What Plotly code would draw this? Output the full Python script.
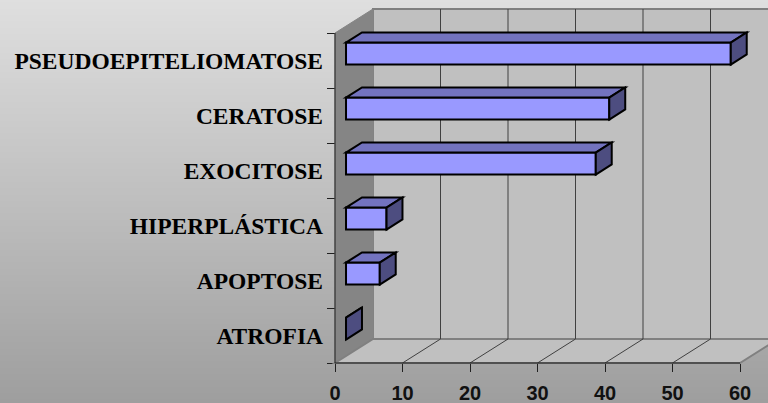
import base64
import struct
import zlib

import plotly.graph_objects as go

# ---- data -----------------------------------------------------------------
categories = ["PSEUDOEPITELIOMATOSE", "CERATOSE", "EXOCITOSE",
              "HIPERPLÁSTICA", "APOPTOSE", "ATROFIA"]
values = [57, 39, 37, 6, 5, 0]
x_ticks = [0, 10, 20, 30, 40, 50, 60]

# ---- geometry of the pseudo-3D box ------------------------------------------
W, H = 768, 403
PX_VAL = 6.75          # pixels per value unit
PX_CAT = 55.0          # pixels per category band
ORIGIN_X, ORIGIN_Y = 335, 363   # value 0 / lower band edge on the front plane
DEPTH_X, DEPTH_Y = 38, 24       # oblique depth offset in pixels
PLOT_L, PLOT_H = 320, 375       # plot area: x from PLOT_L to W, y from 0 to PLOT_H

DX = DEPTH_X / PX_VAL   # depth offset expressed in value units
DY = DEPTH_Y / PX_CAT   # depth offset expressed in category units

n = len(categories)
vmax = x_ticks[-1]
k_lo, k_hi = -0.5, n - 0.5

x_range = [(PLOT_L - ORIGIN_X) / PX_VAL, (W - ORIGIN_X) / PX_VAL]
y_range = [k_lo - (PLOT_H - ORIGIN_Y) / PX_CAT, k_lo + ORIGIN_Y / PX_CAT]


def P(v, k, d):
    """Project (value, category, depth 0..1) into axis coordinates."""
    return v + d * DX, k + d * DY


def path(pts):
    return "M " + " L ".join(f"{x:.4f},{y:.4f}" for x, y in pts) + " Z"


def png_gradient(w, h, top, bottom):
    rows = b""
    for y in range(h):
        t = y / (h - 1)
        g = round(top + (bottom - top) * t)
        rows += b"\x00" + bytes([g, g, g]) * w

    def chunk(tag, data):
        c = struct.pack(">I", len(data)) + tag + data
        return c + struct.pack(">I", zlib.crc32(tag + data) & 0xFFFFFFFF)

    ihdr = struct.pack(">IIBBBBB", w, h, 8, 2, 0, 0, 0)
    png = (b"\x89PNG\r\n\x1a\n" + chunk(b"IHDR", ihdr)
           + chunk(b"IDAT", zlib.compress(rows)) + chunk(b"IEND", b""))
    return "data:image/png;base64," + base64.b64encode(png).decode()


fig = go.Figure()
shapes = []

WALL = "#c0c0c0"
WALL_EDGE = "#808080"
GRID = "#404040"

# back wall
shapes.append(dict(type="path", path=path([P(0, k_lo, 1), P(vmax, k_lo, 1),
                                           P(vmax, k_hi, 1), P(0, k_hi, 1)]),
                   fillcolor=WALL, line=dict(color=WALL_EDGE, width=2)))
# left side wall
shapes.append(dict(type="path", path=path([P(0, k_lo, 0), P(0, k_lo, 1),
                                           P(0, k_hi, 1), P(0, k_hi, 0)]),
                   fillcolor="#858585", line=dict(color="#858585", width=1)))
# floor
shapes.append(dict(type="path", path=path([P(0, k_lo, 0), P(vmax, k_lo, 0),
                                           P(vmax, k_lo, 1), P(0, k_lo, 1)]),
                   fillcolor=WALL, line=dict(color=WALL_EDGE, width=2)))

# gridlines on back wall and floor
for v in x_ticks[1:-1]:
    x0, y0 = P(v, k_lo, 1)
    x1, y1 = P(v, k_hi, 1)
    shapes.append(dict(type="line", x0=x0, y0=y0, x1=x1, y1=y1,
                       line=dict(color=GRID, width=1)))
    xa, ya = P(v, k_lo, 0)
    shapes.append(dict(type="line", x0=xa, y0=ya, x1=x0, y1=y0,
                       line=dict(color=GRID, width=1)))

# axis lines on the front plane
shapes.append(dict(type="line", x0=0, y0=k_lo, x1=0, y1=k_hi,
                   line=dict(color="#202020", width=1)))
shapes.append(dict(type="line", x0=0, y0=k_lo, x1=vmax, y1=k_lo,
                   line=dict(color="#202020", width=1)))

# 3D bars
FRONT, TOP, SIDE = "#9999ff", "#7373bf", "#4d4d80"
d0, d1, half = 0.29, 0.71, 0.2
edge = dict(color="black", width=2)
for i, (cat, v) in enumerate(zip(categories, values)):
    k = n - 1 - i
    front = [P(0, k - half, d0), P(v, k - half, d0), P(v, k + half, d0), P(0, k + half, d0)]
    top = [P(0, k + half, d0), P(v, k + half, d0), P(v, k + half, d1), P(0, k + half, d1)]
    side = [P(v, k - half, d0), P(v, k - half, d1), P(v, k + half, d1), P(v, k + half, d0)]
    for pts, col in ((front, FRONT), (top, TOP), (side, SIDE)):
        shapes.append(dict(type="path", path=path(pts), fillcolor=col, line=edge))

fig.update_layout(
    width=W, height=H, autosize=False,
    margin=dict(l=PLOT_L, r=0, t=0, b=H - PLOT_H, pad=0),
    paper_bgcolor="#c0c0c0", plot_bgcolor="rgba(0,0,0,0)",
    showlegend=False,
    shapes=shapes,
    images=[dict(source=png_gradient(4, 256, 223, 158),
                 xref="paper", yref="paper",
                 x=-PLOT_L / (W - PLOT_L), y=1,
                 sizex=W / (W - PLOT_L), sizey=H / PLOT_H,
                 xanchor="left", yanchor="top", sizing="stretch",
                 layer="below")],
    xaxis=dict(range=x_range, anchor="free",
               position=(PLOT_H - ORIGIN_Y) / PLOT_H,
               tickmode="array", tickvals=x_ticks,
               ticktext=[f"<b>{t}</b>" for t in x_ticks],
               ticks="outside", ticklen=8, tickcolor="#202020",
               ticklabelstandoff=4,
               tickfont=dict(family="Arial, Liberation Sans", size=20,
                             color="#111111"),
               showgrid=False, zeroline=False, showline=False),
    yaxis=dict(range=y_range, anchor="free",
               position=(ORIGIN_X - PLOT_L) / (W - PLOT_L),
               tickmode="array", tickvals=list(range(n)),
               ticktext=categories[::-1],
               ticks="", ticklabelstandoff=12,
               minor=dict(tickmode="array",
                          tickvals=[k + 0.5 for k in range(-1, n)],
                          ticks="outside", ticklen=8, tickcolor="#202020"),
               tickfont=dict(family="Liberation Serif", size=23.5,
                             color="black", weight="bold"),
               showgrid=False, zeroline=False, showline=False),
)

fig.write_html("out.html")
